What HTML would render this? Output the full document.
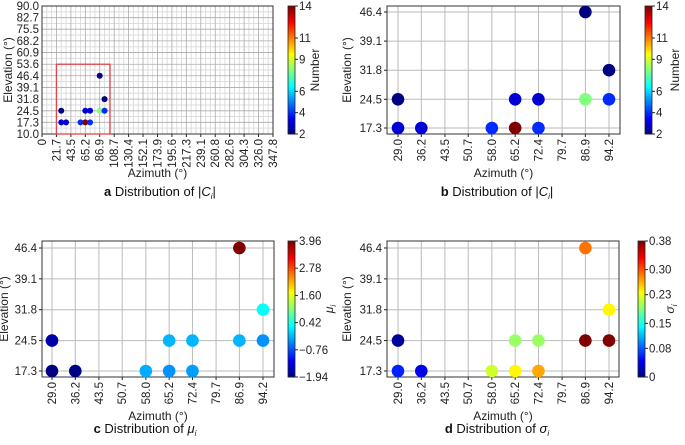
<!DOCTYPE html>
<html><head><meta charset="utf-8"><style>
body{margin:0;background:#fff}
svg{font-family:"Liberation Sans",sans-serif}
</style></head><body>
<svg id="s" width="685" height="440" xmlns="http://www.w3.org/2000/svg"></svg>
<script>
const azTicksA=[0,21.7,43.5,65.2,86.9,108.7,130.4,152.1,173.9,195.6,217.3,239.1,260.8,282.6,304.3,326.0,347.8];
const elTicksA=[10.0,17.3,24.5,31.8,39.1,46.4,53.6,60.9,68.2,75.5,82.7,90.0];
const azCats=[29.0,36.2,43.5,50.7,58.0,65.2,72.4,79.7,86.9,94.2];
const elCats=[17.3,24.5,31.8,39.1,46.4];
const ptAz=[29.0,29.0,36.2,58.0,65.2,65.2,72.4,72.4,86.9,86.9,94.2,94.2];
const ptEl=[24.5,17.3,17.3,17.3,17.3,24.5,24.5,17.3,46.4,24.5,31.8,24.5];
const countVals=[2,3,3,4,14,3,3,4,2,8,2,4];
const muVals=[-1.7,-1.94,-1.9,-0.2,-0.35,-0.15,-0.15,-0.3,3.96,-0.15,0.3,-0.35];
const sigmaVals=[0.01,0.06,0.04,0.22,0.24,0.20,0.20,0.27,0.29,0.38,0.24,0.38];
const countTicks=[2,4,6,9,11,14];
const muTicks=[-1.94,-0.76,0.42,1.60,2.78,3.96];
const sigmaTicks=[0,0.08,0.15,0.23,0.30,0.38];
const NS="http://www.w3.org/2000/svg";
const svg=document.getElementById('s');
function el(tag,attrs,parent,text){const e=document.createElementNS(NS,tag);for(const k in attrs)e.setAttribute(k,attrs[k]);if(text!==undefined)e.textContent=text;(parent||svg).appendChild(e);return e;}
function jet(t){t=Math.max(0,Math.min(1,t));const c=x=>Math.round(255*Math.max(0,Math.min(1,1.5-Math.abs(4*t-x))));return `rgb(${c(3)},${c(2)},${c(1)})`;}
function colorbar(x,y0,y1,ticks,fmt,label,italic,name,loff){
  const g=el('g',{},svg);
  
  const n=60,h=(y1-y0)/n;
  for(let i=0;i<n;i++)el('rect',{x:x,y:y1-(i+1)*h,width:7,height:h+0.5,fill:jet((i+0.5)/n)},g);
  el('rect',{x:x,y:y0,width:7,height:y1-y0,fill:'none',stroke:'#222','stroke-width':0.8},g);
  const mn=ticks[0],mx=ticks[ticks.length-1];
  ticks.forEach(v=>{const yy=y1-(v-mn)/(mx-mn)*(y1-y0);el('line',{x1:x+7,x2:x+10,y1:yy,y2:yy,stroke:'#222'},g);el('text',{x:x+11,y:yy+4,'font-size':11.5,fill:'#222'},g,fmt(v));});
  const t=el('text',{x:0,y:0,'font-size':12,fill:'#222','text-anchor':'middle','font-style':italic?'italic':'normal',transform:`translate(${x+loff},${(y0+y1)/2}) rotate(-90)`},g,label);
  if(italic){el('tspan',{'font-size':8,dy:3},t,'i');}
  return g;
}
function xlab(x,y,txt,g){el('text',{'font-size':11.5,fill:'#222','text-anchor':'end',transform:`translate(${x+4},${y}) rotate(-90)`},g,txt);}
function caption(x,y,letter,rest,sub,name){
  const t=el('text',{x:x,y:y,'font-size':13,fill:'#111','text-anchor':'middle'});
  
  el('tspan',{'font-weight':'bold'},t,letter+' ');el('tspan',{},t,rest);
  if(sub==='C'){el('tspan',{},t,'|');el('tspan',{'font-style':'italic'},t,'C');el('tspan',{'font-size':8,dy:3,'font-style':'italic'},t,'i');el('tspan',{dy:-3},t,'|');}
  else{el('tspan',{'font-style':'italic'},t,sub);el('tspan',{'font-size':8,dy:3,'font-style':'italic'},t,'i');}
}
// Panel a
(function(){
  const L=42,R=273,T=6,B=134;
  const g=el('g',{});
  const xs=v=>L+(v-0)/347.8*(R-L), ys=v=>B-(v-10)/80*(B-T);
  for(let i=0;i<azTicksA.length-1;i++){for(let k=1;k<3;k++){const v=azTicksA[i]+(azTicksA[i+1]-azTicksA[i])*k/3;el('line',{x1:xs(v),x2:xs(v),y1:T,y2:B,stroke:'#ddd','stroke-width':1},g);}}
  for(let i=0;i<elTicksA.length-1;i++){const v=(elTicksA[i]+elTicksA[i+1])/2;el('line',{x1:L,x2:R,y1:ys(v),y2:ys(v),stroke:'#ddd','stroke-width':1},g);}
  azTicksA.forEach(v=>{el('line',{x1:xs(v),x2:xs(v),y1:T,y2:B,stroke:'#aaa','stroke-width':0.8},g);el('line',{x1:xs(v),x2:xs(v),y1:B,y2:B+3,stroke:'#222'},g);xlab(xs(v),B+5,v===0?'0':v.toFixed(1),g);});
  elTicksA.forEach(v=>{el('line',{x1:L,x2:R,y1:ys(v),y2:ys(v),stroke:'#aaa','stroke-width':0.8},g);el('text',{x:L-3,y:ys(v)+4,'font-size':11.5,fill:'#222','text-anchor':'end'},g,v.toFixed(1));});
  el('rect',{x:L,y:T,width:R-L,height:B-T,fill:'none',stroke:'#333','stroke-width':1},g);
  const box=el('rect',{x:xs(21.7),y:ys(53.6),width:xs(102.4)-xs(21.7),height:ys(10)-ys(53.6),fill:'none',stroke:'#e0454b','stroke-width':1.3},g);
  
  ptAz.forEach((a,i)=>{const c=el('circle',{cx:xs(a),cy:ys(ptEl[i]),r:3,fill:jet((countVals[i]-2)/12)},g);});
  el('text',{x:0,y:0,'font-size':12,fill:'#222','text-anchor':'middle',transform:`translate(12,${(T+B)/2}) rotate(-90)`},g,'Elevation (°)');
  el('text',{x:(L+R)/2,y:177,'font-size':12,fill:'#222','text-anchor':'middle'},g,'Azimuth (°)');
  colorbar(288,6,134,countTicks,v=>String(v),'Number',false,'colorbar-a',31);
  caption(160,196,'a','Distribution of ','C','caption-a');
})();
function catPanel(L,R,T,B,x0,x1,yTop,yBot,vals,ticks,name,labX){
  const g=el('g',{});
  const xs=v=>x0+(v-29.0)/(94.2-29.0)*(x1-x0), ys=v=>yBot-(v-17.3)/(46.4-17.3)*(yBot-yTop);
  azCats.forEach(v=>{el('line',{x1:xs(v),x2:xs(v),y1:T,y2:B,stroke:'#bbb','stroke-width':1},g);el('line',{x1:xs(v),x2:xs(v),y1:B,y2:B+3,stroke:'#222'},g);xlab(xs(v),B+5,v.toFixed(1),g);});
  elCats.forEach(v=>{el('line',{x1:L,x2:R,y1:ys(v),y2:ys(v),stroke:'#bbb','stroke-width':1},g);el('line',{x1:L-3,x2:L,y1:ys(v),y2:ys(v),stroke:'#222'},g);el('text',{x:L-5,y:ys(v)+4,'font-size':11.5,fill:'#222','text-anchor':'end'},g,v.toFixed(1));});
  el('rect',{x:L,y:T,width:R-L,height:B-T,fill:'none',stroke:'#333','stroke-width':1},g);
  const mn=ticks[0],mx=ticks[ticks.length-1];
  ptAz.forEach((a,i)=>{const c=el('circle',{cx:xs(a),cy:ys(ptEl[i]),r:6.3,fill:jet((vals[i]-mn)/(mx-mn))},g);});
  el('text',{x:0,y:0,'font-size':12,fill:'#222','text-anchor':'middle',transform:`translate(${labX},${(T+B)/2}) rotate(-90)`},g,'Elevation (°)');
  el('text',{x:(L+R)/2,y:B+43,'font-size':12,fill:'#222','text-anchor':'middle'},g,'Azimuth (°)');
}
catPanel(387,620,6,134,398,609,12,128,countVals,countTicks,'panel-b-plot',351);
colorbar(645,6,134,countTicks,v=>String(v),'Number',false,'colorbar-b',34);
caption(497,196,'b','Distribution of ','C','caption-b');
catPanel(42,274,241,377,52,263,248,371,muVals,muTicks,'panel-c-plot',8);
colorbar(288,241,377,muTicks,v=>v.toFixed(2).replace('-','−'),'μ',true,'colorbar-c',45);
caption(145,433,'c','Distribution of ','μ','caption-c');
catPanel(387,619,241,377,398,609,248,371,sigmaVals,sigmaTicks,'panel-d-plot',351);
colorbar(638,241,377,sigmaTicks,v=>v===0?'0':v.toFixed(2),'σ',true,'colorbar-d',36);
caption(497,433,'d','Distribution of ','σ','caption-d');
</script>
</body></html>
